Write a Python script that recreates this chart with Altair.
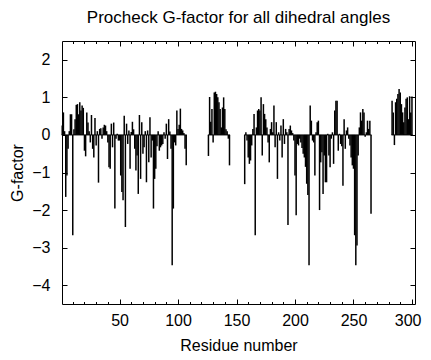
import altair as alt
import pandas as pd

# G-factor values per contiguous residue segment
seg_starts = [1, 126, 157, 283]

seg1 = [0.25, 0.6, 0.1, -1.65, -1.08, -0.37, 0.1, 0.55, 0.55, -2.67,
        0.15, 0.42, 0.8, 0.82, 0.55, 0.87, 0.65, 0.78, 0.72, -0.42,
        -0.57, 0.6, 0.33, 0.1, -0.2, 0.53, -0.37, -0.6, 0.45, -0.28,
        0.1, -1.27, 0.16, 0.18, -0.1, 0.2, 0.27, 0.25, 0.1, -0.2,
        -0.86, -0.9, 0.3, -0.33, 0.33, -1.96, -0.1, 0.03, -0.15, -0.15,
        -1.08, -1.52, -1.74, 0.51, -2.45, 0.3, -0.24, 0.12, -0.9, 0.08,
        0.35, 0.15, -0.37, -0.95, -0.55, -1.57, 0.53, -1.17, 0.34, -0.5,
        -0.33, 0.1, -1.26, 0.12, -0.73, 0.47, -0.6, -0.15, -1.96, -1.17,
        -0.9, -0.3, 0.1, -0.42, -0.33, -0.28, -0.24, 0.07, -0.1, 0.3,
        -0.64, 0.42, 0.09, -0.37, -3.47, -1.96, -0.2, -0.28, 0.65, 0.16,
        0.27, 0.7, 0.16, 0.12, 0.05, -0.37, -0.81]

seg2 = [-0.56, 1.01, 0.35, 0.69, -0.2, 1.13, 1.15, 1.09, 1.0, 0.87,
        0.69, 0.2, 0.73, 1.0, 0.69, 0.15, 0.1, -0.1, -0.81]

seg3 = [-1.31, 0.07, -0.15, -0.6, -0.77, -0.68, -0.28, 0.16, 0.56, -2.67,
        0.2, 0.65, 0.69, 0.65, 1.0, -0.55, 0.82, 0.56, 0.42, 0.2,
        -0.2, -0.73, 0.16, 0.34, 0.07, 0.78, -0.33, 0.34, -1.17, 0.07,
        -0.15, 0.25, -0.6, 0.42, -0.24, 0.16, 0.07, -2.4, 0.16, 0.25,
        0.12, 0.05, -0.15, -1.08, -2.14, -0.24, -0.28, -0.1, -0.2, -0.35,
        -0.5, -0.6, -0.85, -1.3, -1.6, -3.47,
        0.78, 0.38, -0.15, -0.2, -1.08, 0.07, 0.34, 0.38, -2.0, -0.73,
        -0.46, -1.57, -0.55, -1.26, -1.26, 0.03, -0.55, -0.86, -0.1, 0.07,
        -0.77, 0.65, 0.91, 0.91, -0.42, 0.03, -0.24, -0.3, -1.35, 0.42,
        -0.37, 0.12, 0.2, -0.1, -0.28, -0.6, -0.81, -0.9, -2.67, -3.47,
        -2.94, -0.55, 0.2, 0.6, 0.38, 0.69, 0.6, -0.05, 0.07, 0.38,
        0.16, 0.38, -2.1]

seg4 = [0.91, 0.6, -0.27, 0.87, 0.96, 1.09, 1.22, 1.13, 0.82, 0.6,
        0.34, 0.73, 0.96, 1.0, 0.42, 1.03, 0.6, 1.02]

segments = [seg1, seg2, seg3, seg4]

x_major = [50, 100, 150, 200, 250, 300]
x_minor = list(range(10, 301, 10))
y_ticks = [-4, -3, -2, -1, 0, 1, 2]

rows = []
base_rows = []
for s, vals in zip(seg_starts, segments):
    for i, v in enumerate(vals):
        rows.append({"residue": s + i, "g": v, "zero": 0})
    base_rows.append({"start": s - 0.5, "end": s + len(vals) - 0.5, "zero": 0})
df = pd.DataFrame(rows)
bdf = pd.DataFrame(base_rows)

W, H = 353, 263
FONT = "Liberation Sans"

xs = alt.Scale(domain=[0.8, 302.6], nice=False, zero=False)
ys = alt.Scale(domain=[-4.5, 2.5], nice=False, zero=False)

main = alt.Chart(df).mark_rule(color="black", strokeWidth=1.5).encode(
    x=alt.X("residue:Q", scale=xs,
            axis=alt.Axis(values=x_major, ticks=False, domain=False, grid=False,
                          labelFontSize=16, labelPadding=8,
                          labelFlush=12, labelFlushOffset=9,
                          title="Residue number", titleFontSize=16,
                          titleFontWeight="normal", titlePadding=9)),
    y=alt.Y("g:Q", scale=ys,
            axis=alt.Axis(values=y_ticks, ticks=False, domain=False, grid=False,
                          labelFontSize=16, labelPadding=12, labelFlush=False,
                          minExtent=0,
                          title="G-factor", titleFontSize=16,
                          titleFontWeight="normal", titlePadding=6)),
    y2="zero:Q",
)

baseline = alt.Chart(bdf).mark_rule(color="black", strokeWidth=1).encode(
    x=alt.X("start:Q", scale=xs, axis=None),
    x2="end:Q",
    y=alt.Y("zero:Q", scale=ys, axis=None),
)


def tick_layer(xorient, yorient, xvals, yvals, size):
    enc = {
        "x": alt.X("residue:Q", scale=xs,
                   axis=alt.Axis(orient=xorient, offset=-H, values=xvals,
                                 tickSize=size, labels=False, domain=False,
                                 grid=False, title=None, tickColor="black",
                                 minExtent=0)),
        "y2": "zero:Q",
    }
    if yvals is not None:
        enc["y"] = alt.Y("g:Q", scale=ys,
                         axis=alt.Axis(orient=yorient, offset=-W, values=yvals,
                                       tickSize=size, labels=False, domain=False,
                                       grid=False, title=None, tickColor="black",
                                       minExtent=0))
    else:
        enc["y"] = alt.Y("g:Q", scale=ys, axis=None)
    return alt.Chart(df).mark_rule(opacity=0).encode(**enc)


t1 = tick_layer("top", "right", x_major, y_ticks, 5)
t2 = tick_layer("bottom", "left", x_major, y_ticks, 5)
t3 = tick_layer("top", "right", x_minor, None, 2.5)
t4 = tick_layer("bottom", "left", x_minor, None, 2.5)

chart = alt.layer(baseline, main, t1, t2, t3, t4).resolve_axis(
    x="independent", y="independent"
).properties(
    width=W,
    height=H,
    autosize=alt.AutoSizeParams(type="none"),
    padding={"left": 54, "top": 33, "right": 8, "bottom": 48},
    title=alt.TitleParams("Procheck G-factor for all dihedral angles",
                          offset=14),
).configure_axis(
    labelFont=FONT, titleFont=FONT, labelColor="black", titleColor="black",
    tickColor="black", tickWidth=1,
).configure_view(
    stroke="black", strokeWidth=1,
).configure_title(
    font=FONT, fontSize=17, fontWeight="normal", color="black",
)

chart.save("out.html", embed_options={"renderer": "svg", "actions": False})
